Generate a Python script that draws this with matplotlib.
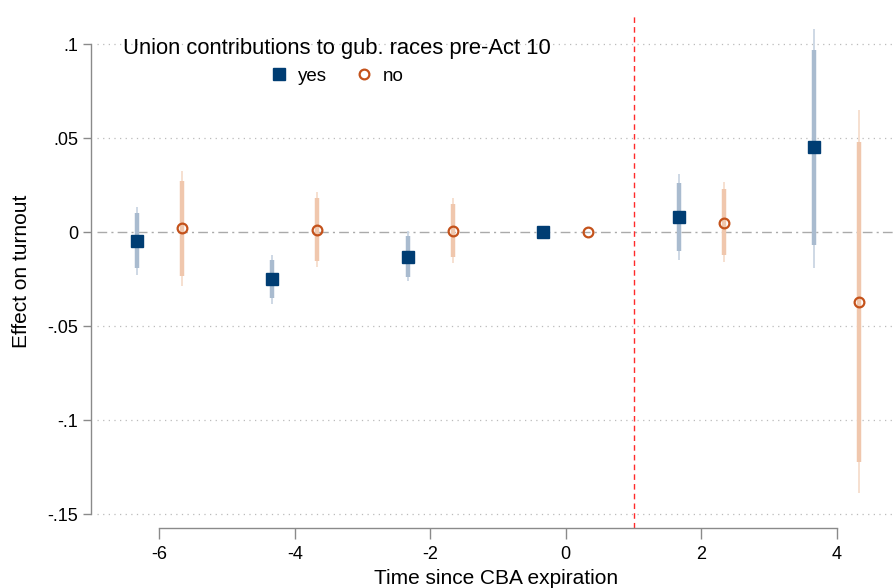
import numpy as np
import matplotlib
matplotlib.use("Agg")
import matplotlib.pyplot as plt
from matplotlib.lines import Line2D

plt.rcParams['font.family'] = ['Liberation Sans', 'DejaVu Sans']
plt.rcParams['axes.unicode_minus'] = False

# Event-time periods and estimates
periods = [-6, -4, -2, 0, 2, 4]

yes_coef = [-0.005, -0.025, -0.013, 0.0, 0.008, 0.045]
yes_lo95 = [-0.023, -0.038, -0.026, np.nan, -0.015, -0.019]
yes_hi95 = [0.0135, -0.0124, 0.0005, np.nan, 0.031, 0.108]
yes_lo90 = [-0.019, -0.035, -0.024, np.nan, -0.010, -0.007]
yes_hi90 = [0.010, -0.015, -0.002, np.nan, 0.026, 0.097]

no_coef = [0.002, 0.001, 0.0005, 0.0, 0.005, -0.037]
no_lo95 = [-0.0286, -0.0188, -0.0167, np.nan, -0.0158, -0.1387]
no_hi95 = [0.0326, 0.0213, 0.0179, np.nan, 0.0264, 0.0649]
no_lo90 = [-0.0234, -0.0154, -0.0135, np.nan, -0.0122, -0.1222]
no_hi90 = [0.0273, 0.0179, 0.0149, np.nan, 0.0227, 0.048]

yticks = [-0.15, -0.1, -0.05, 0, 0.05, 0.1]
ytick_labels = ["-.15", "-.1", "-.05", "0", ".05", ".1"]
xticks = [-6, -4, -2, 0, 2, 4]

navy = "#003d73"
orange = "#c4521b"
blue_thick, blue_thin = "#a9bbcf", "#cad6e3"
org_thick, org_thin = "#f0c7ad", "#f6ddcd"

fig = plt.figure(figsize=(8.95, 5.88), dpi=100)
ax = fig.add_axes([97 / 895, 1 - 528 / 588, 1 - 97 / 895, (528 - 14) / 588])

ax.set_xlim(-6.92, 4.86)
ax.set_ylim(-0.1574, 0.116)

# dotted grid lines (excluding zero, which gets a reference line)
for yv in yticks:
    if yv != 0:
        ax.axhline(yv, color="#bbbbbb", lw=0.9, ls=(0, (1, 3.5)), zorder=0)
ax.axhline(0, color="#aaaaaa", lw=1.0, ls=(0, (7, 3, 1.5, 3)), zorder=0)
ax.axvline(1, color="#ff2a2a", lw=1.0, ls=(0, (4, 3)), zorder=1)

x_yes = np.array(periods) - 1 / 3
x_no = np.array(periods) + 1 / 3

ax.vlines(x_yes, yes_lo95, yes_hi95, color=blue_thin, lw=1.3, zorder=2)
ax.vlines(x_yes, yes_lo90, yes_hi90, color=blue_thick, lw=3.2, zorder=3)
ax.vlines(x_no, no_lo95, no_hi95, color=org_thin, lw=1.3, zorder=2)
ax.vlines(x_no, no_lo90, no_hi90, color=org_thick, lw=3.2, zorder=3)

ax.plot(x_yes, yes_coef, ls="none", marker="s", ms=8, color=navy, zorder=4)
ax.plot(x_no, no_coef, ls="none", marker="o", ms=7, mfc="none", mec=orange,
        mew=1.6, zorder=4)

for s in ["top", "right"]:
    ax.spines[s].set_visible(False)
ax.spines["left"].set_bounds(-0.15, 0.1)
ax.spines["left"].set_position(("outward", 4))
ax.spines["bottom"].set_bounds(-6, 4)
for s in ["left", "bottom"]:
    ax.spines[s].set_color("#8a8a8a")
    ax.spines[s].set_linewidth(1.0)

ax.set_yticks(yticks)
ax.set_yticklabels(ytick_labels)
ax.set_xticks(xticks)
ax.tick_params(axis="both", colors="#8a8a8a", labelcolor="black",
               labelsize=13, length=6, width=1.0)
ax.tick_params(axis="x", length=8, pad=5)

ax.set_xlabel("Time since CBA expiration", fontsize=15, labelpad=4)
ax.set_ylabel("Effect on turnout", fontsize=15, labelpad=12)

handles = [
    Line2D([], [], ls="none", marker="s", ms=8, color=navy, label="yes"),
    Line2D([], [], ls="none", marker="o", ms=7, mfc="none", mec=orange,
           mew=1.6, label="no"),
]
leg = fig.legend(handles=handles, loc="upper center", ncol=2,
                 bbox_to_anchor=(337 / 895, 1 - 25 / 588), frameon=False,
                 title="Union contributions to gub. races pre-Act 10",
                 title_fontsize=15.8, fontsize=13.5, handletextpad=0.5,
                 columnspacing=1.5, handlelength=1.0, borderpad=0.2,
                 labelspacing=0.2)
leg._legend_box.sep = 6

fig.savefig("out.png", dpi=100)
